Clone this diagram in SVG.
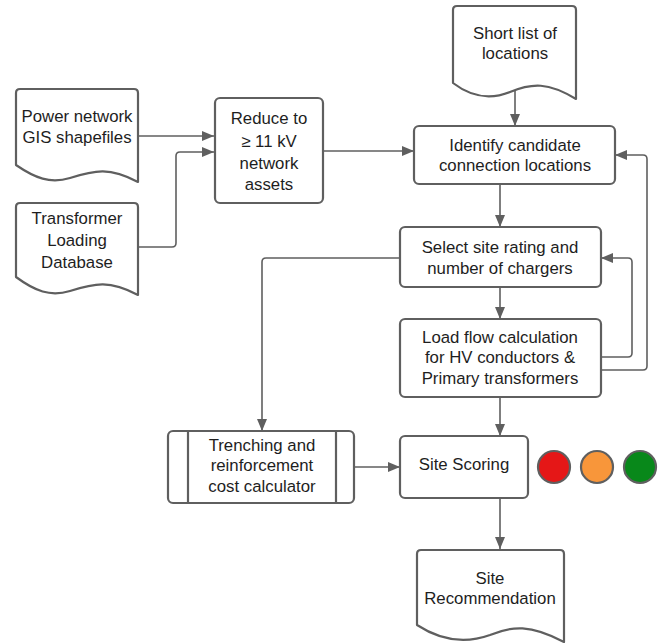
<svg xmlns="http://www.w3.org/2000/svg" width="665" height="643" viewBox="0 0 665 643">
<style>
.shape{fill:#fff;stroke:#5f5f5f;stroke-width:2.2;stroke-linejoin:round}
.conn{fill:none;stroke:#5f5f5f;stroke-width:1.6}
text{font-family:"Liberation Sans",Arial,sans-serif;font-size:16.8px;fill:#1e1e1e;text-anchor:middle;dominant-baseline:central}
.dot{stroke:#5f5f5f;stroke-width:2.2}
</style>
<defs>
<marker id="arr" markerUnits="userSpaceOnUse" markerWidth="12" markerHeight="10" refX="12" refY="5" orient="auto">
<path d="M0,0 L12,5 L0,10 z" fill="#5f5f5f"/>
</marker>
</defs>
<rect width="665" height="643" fill="#fff"/>
<g id="connectors">
<path class="conn" marker-end="url(#arr)" d="M138,136 H214"/>
<path class="conn" marker-end="url(#arr)" d="M138,247 H172 Q176,247 176,243 V156 Q176,152 180,152 H214"/>
<path class="conn" marker-end="url(#arr)" d="M323,151 H414"/>
<path class="conn" marker-end="url(#arr)" d="M515,91 V126"/>
<path class="conn" marker-end="url(#arr)" d="M500,184 V227"/>
<path class="conn" marker-end="url(#arr)" d="M500,287 V319"/>
<path class="conn" marker-end="url(#arr)" d="M601,357 H628 Q632,357 632,353 V262 Q632,258 628,258 H601"/>
<path class="conn" marker-end="url(#arr)" d="M601,370 H643 Q647,370 647,366 V159 Q647,155 643,155 H615"/>
<path class="conn" marker-end="url(#arr)" d="M400,258 H266 Q262,258 262,262 V431"/>
<path class="conn" marker-end="url(#arr)" d="M354,467 H400"/>
<path class="conn" marker-end="url(#arr)" d="M500,397 V436"/>
<path class="conn" marker-end="url(#arr)" d="M500,498 V549"/>
</g>
<g id="doc-power">
<path class="shape" d="M16,165 V93 Q16,89 20,89 H134 Q138,89 138,93 V182 C110,167 95,170 70,178 C50,184 35,178 16,165 Z"/>
<text x="77" y="116">Power network</text>
<text x="77" y="137">GIS shapefiles</text>
</g>
<g id="doc-transformer">
<path class="shape" d="M16,277 V207 Q16,203 20,203 H134 Q138,203 138,207 V295 C110,280 95,283 70,291 C50,297 35,291 16,277 Z"/>
<text x="77" y="218">Transformer</text>
<text x="77" y="240">Loading</text>
<text x="77" y="262">Database</text>
</g>
<g id="reduce">
<rect class="shape" x="215" y="98" width="108" height="105" rx="5"/>
<text x="269" y="118">Reduce to</text>
<text x="269" y="141">≥ 11 kV</text>
<text x="269" y="163">network</text>
<text x="269" y="184">assets</text>
</g>
<g id="doc-shortlist">
<path class="shape" d="M453,83 V10 Q453,6 457,6 H572 Q576,6 576,10 V99 C548,82 532,83 510,92 C490,100 470,96 453,83 Z"/>
<text x="515" y="33">Short list of</text>
<text x="515" y="53">locations</text>
</g>
<g id="identify">
<rect class="shape" x="414" y="126" width="201" height="58" rx="5"/>
<text x="515" y="145">Identify candidate</text>
<text x="515" y="165">connection locations</text>
</g>
<g id="select">
<rect class="shape" x="400" y="227" width="201" height="60" rx="5"/>
<text x="500" y="247">Select site rating and</text>
<text x="500" y="268">number of chargers</text>
</g>
<g id="loadflow">
<rect class="shape" x="400" y="319" width="201" height="78" rx="5"/>
<text x="500" y="337">Load flow calculation</text>
<text x="500" y="357">for HV conductors &amp;</text>
<text x="500" y="378">Primary transformers</text>
</g>
<g id="trenching">
<rect class="shape" x="168" y="431" width="186" height="72" rx="5"/>
<line class="shape" x1="188" y1="431" x2="188" y2="503"/>
<line class="shape" x1="336" y1="431" x2="336" y2="503"/>
<text x="262" y="445">Trenching and</text>
<text x="262" y="465">reinforcement</text>
<text x="262" y="486">cost calculator</text>
</g>
<g id="scoring">
<rect class="shape" x="400" y="436" width="128" height="62" rx="5"/>
<text x="464" y="464">Site Scoring</text>
</g>
<g id="lights">
<circle class="dot" cx="554" cy="467" r="16" fill="#e51717"/>
<circle class="dot" cx="597" cy="467" r="16" fill="#f8963a"/>
<circle class="dot" cx="640" cy="467" r="16" fill="#08881a"/>
</g>
<g id="doc-recommendation">
<path class="shape" d="M417,625 V554 Q417,550 421,550 H560 Q564,550 564,554 V642 C530,624 512,626 490,635 C465,644 440,640 417,625 Z"/>
<text x="490" y="578">Site</text>
<text x="490" y="598">Recommendation</text>
</g>
</svg>
